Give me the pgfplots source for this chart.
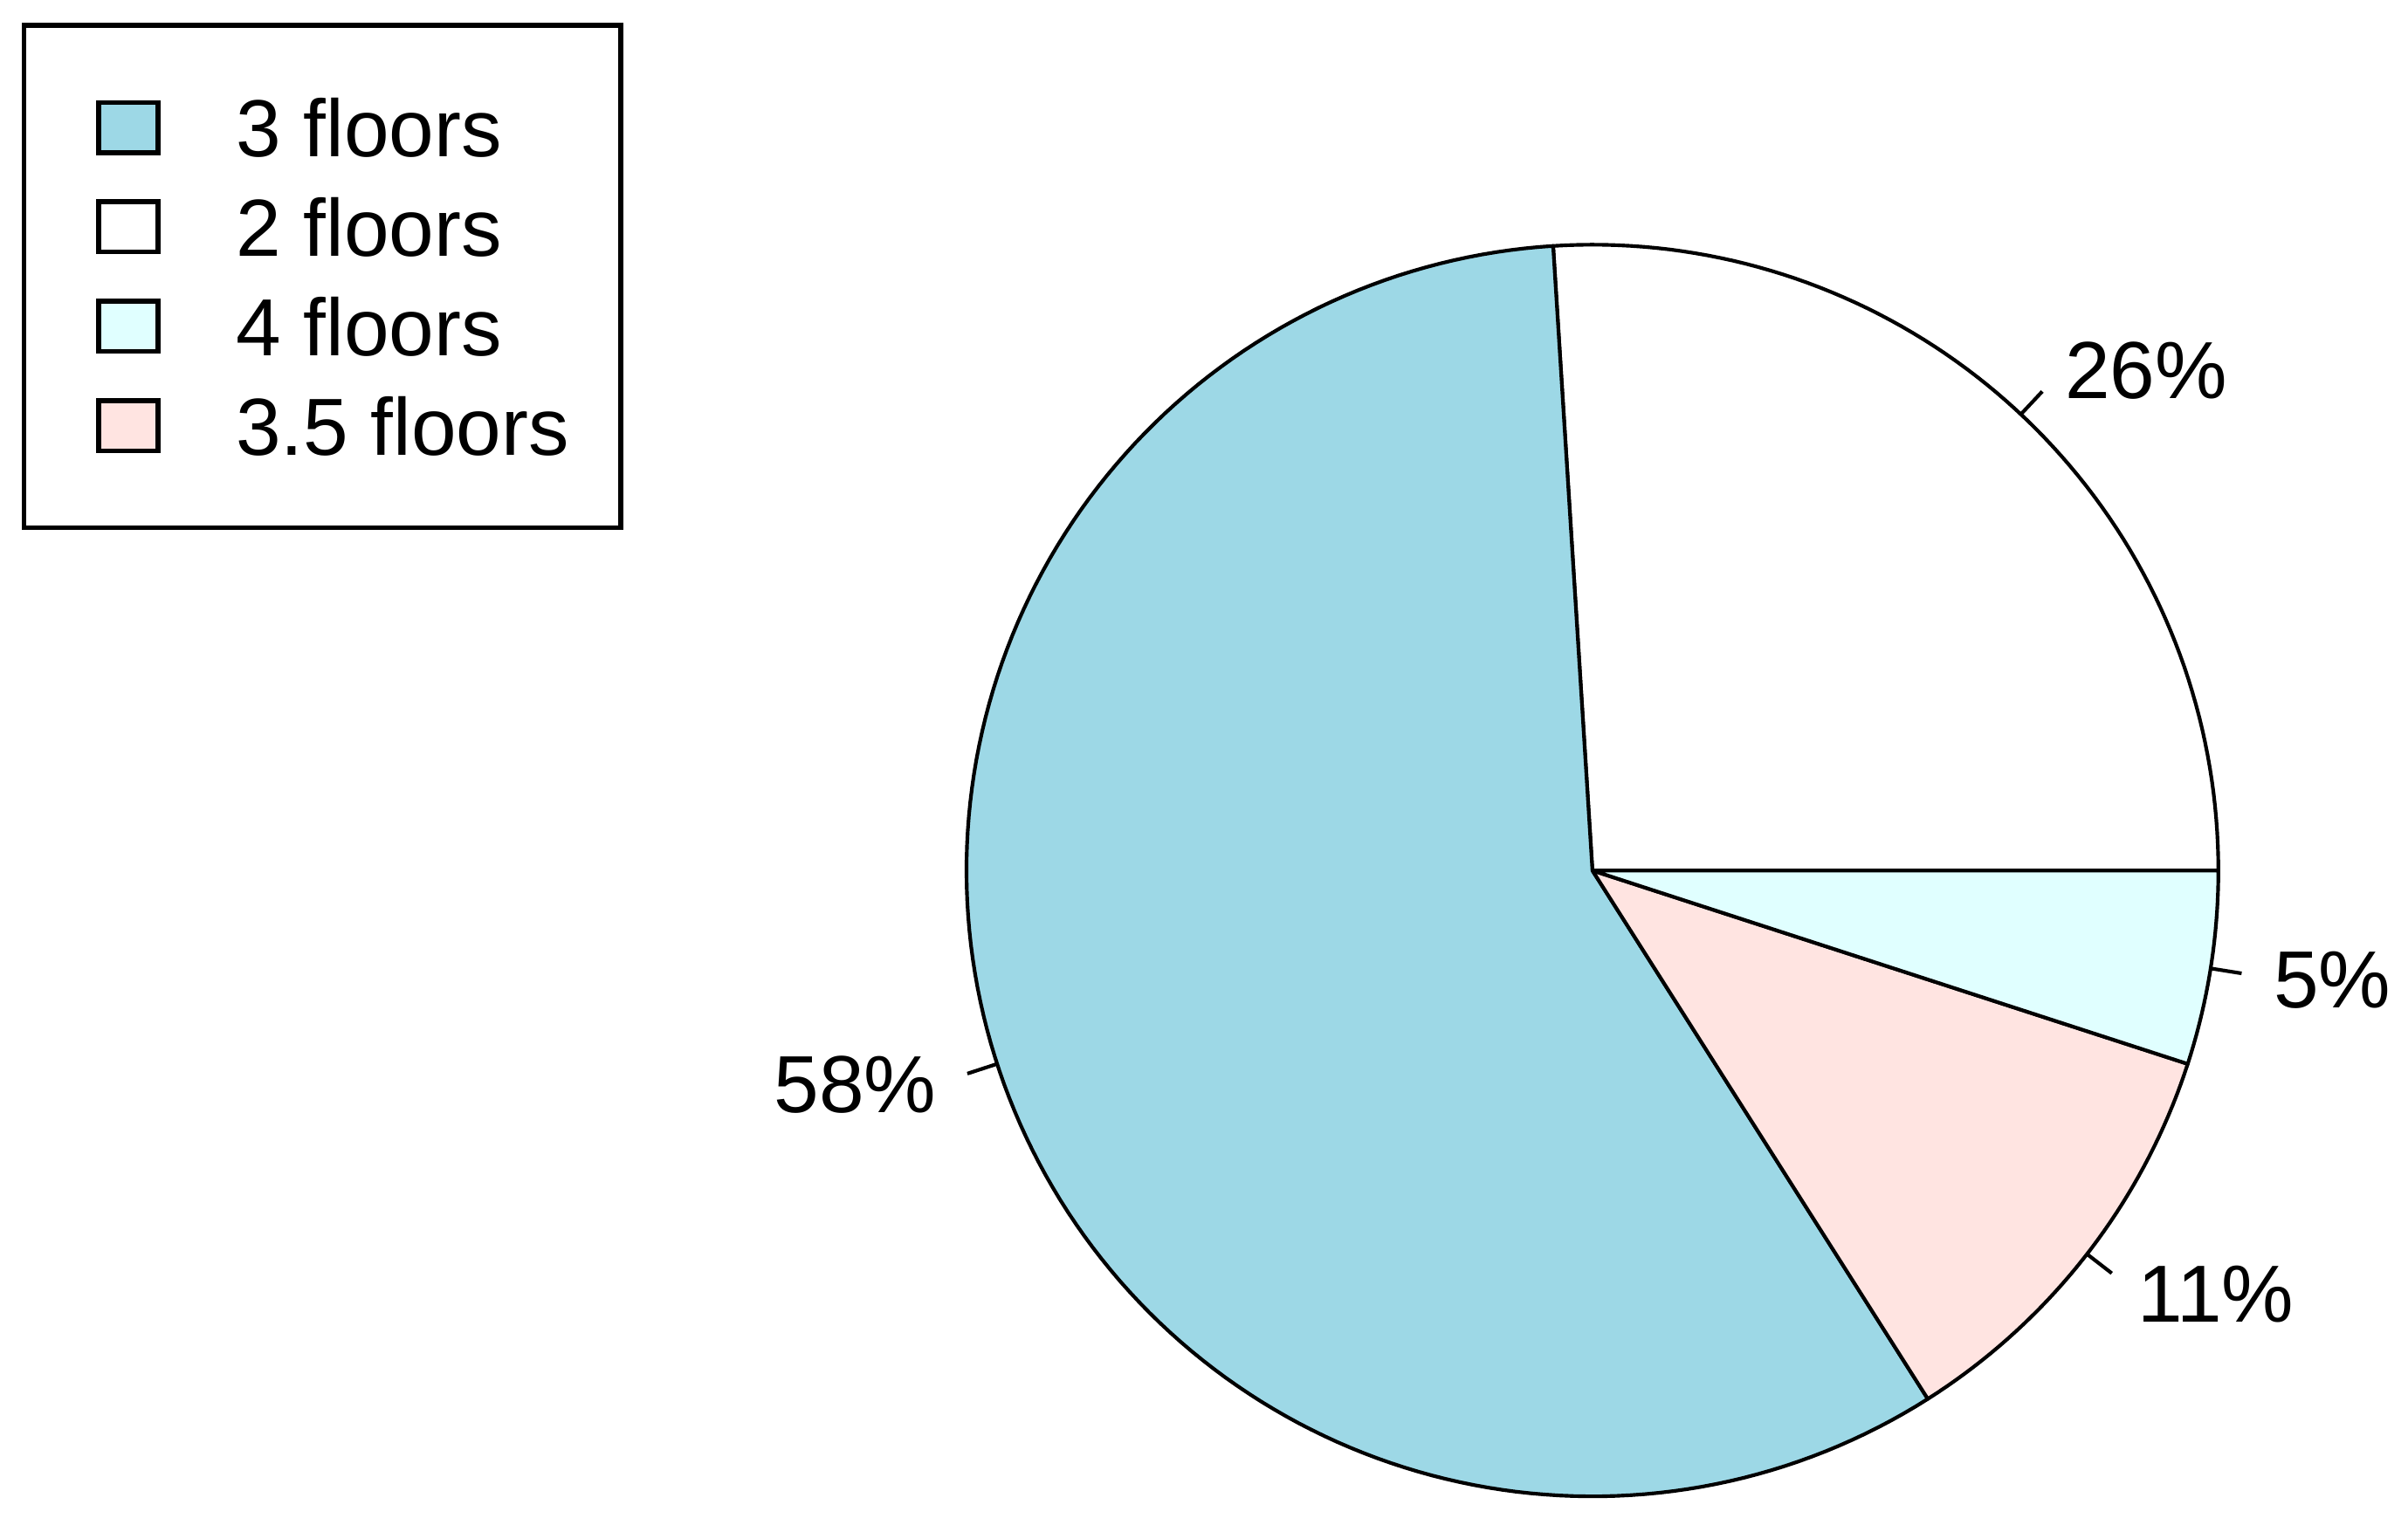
\documentclass[border=0pt]{standalone}
\usepackage{fontspec}
\setmainfont{Liberation Sans}
\usepackage{pgfplots}
\pgfplotsset{compat=1.18}

\definecolor{lblue}{RGB}{157,216,230}
\definecolor{mrose}{RGB}{255,228,225}
\definecolor{lcyan}{RGB}{224,255,255}

\begin{document}
\begin{tikzpicture}
\begin{axis}[
    width=14cm, height=8.949cm,
    scale only axis,
    xmin=-2.544, xmax=1.303,
    ymin=-1.068, ymax=1.391,
    hide axis,
    clip=false,
    font=\fontsize{13.4}{16}\selectfont,
    legend style={
        at={(0.0089,0.985)}, anchor=north west,
        draw=black, line width=0.8pt,
        inner xsep=8.5pt, inner ysep=12pt,
        row sep=6.7pt, column sep=12.5pt,
        font=\fontsize{13.4}{16}\selectfont,
        nodes={inner sep=0pt, text height=9.75pt, text depth=0pt},
    },
    legend cell align=left,
    legend image code/.code={
        \path (-3.5pt,0pt);
        \draw[#1, line width=0.8pt] (0pt,-4.15pt) rectangle (9.8pt,4.15pt);
    },
]
% keep the full frame as the picture's size
\draw[draw=none] (rel axis cs:0,0) rectangle (rel axis cs:1,1);

% slices, counter-clockwise from 3 o'clock: 26, 58, 11, 5 percent
\addplot[forget plot, fill=white, draw=black, line width=0.6pt, line join=round,
    domain=0:93.6, samples=80, variable=\t] ({cos(t)}, {sin(t)}) -- (axis cs:0,0) -- cycle;
\addplot[forget plot, fill=lblue, draw=black, line width=0.6pt, line join=round,
    domain=93.6:302.4, samples=160, variable=\t] ({cos(t)}, {sin(t)}) -- (axis cs:0,0) -- cycle;
\addplot[forget plot, fill=mrose, draw=black, line width=0.6pt, line join=round,
    domain=302.4:342, samples=40, variable=\t] ({cos(t)}, {sin(t)}) -- (axis cs:0,0) -- cycle;
\addplot[forget plot, fill=lcyan, draw=black, line width=0.6pt, line join=round,
    domain=342:360, samples=20, variable=\t] ({cos(t)}, {sin(t)}) -- (axis cs:0,0) -- cycle;

% label ticks
\addplot[forget plot, black, line width=0.6pt] coordinates {(0.6845,0.7290)(0.7187,0.7655)};
\addplot[forget plot, black, line width=0.6pt] coordinates {(-0.9511,-0.3090)(-0.9986,-0.3245)};
\addplot[forget plot, black, line width=0.6pt] coordinates {(0.7902,-0.6129)(0.8297,-0.6435)};
\addplot[forget plot, black, line width=0.6pt] coordinates {(0.9877,-0.1564)(1.0371,-0.1643)};

\node[anchor=west, inner sep=0pt, text height=9.75pt, text depth=0pt] at (axis cs:0.7530,0.8019) {26\%};
\node[anchor=east, inner sep=0pt, text height=9.75pt, text depth=0pt] at (axis cs:-1.0462,-0.3399) {58\%};
\node[anchor=west, inner sep=0pt, text height=9.75pt, text depth=0pt] at (axis cs:0.8692,-0.6742) {11\%};
\node[anchor=west, inner sep=0pt, text height=9.75pt, text depth=0pt] at (axis cs:1.0865,-0.1721) {5\%};

% legend
\addlegendimage{fill=lblue, draw=black}
\addlegendentry{3 floors}
\addlegendimage{fill=white, draw=black}
\addlegendentry{2 floors}
\addlegendimage{fill=lcyan, draw=black}
\addlegendentry{4 floors}
\addlegendimage{fill=mrose, draw=black}
\addlegendentry{3.5 floors}
\end{axis}
\end{tikzpicture}
\end{document}
